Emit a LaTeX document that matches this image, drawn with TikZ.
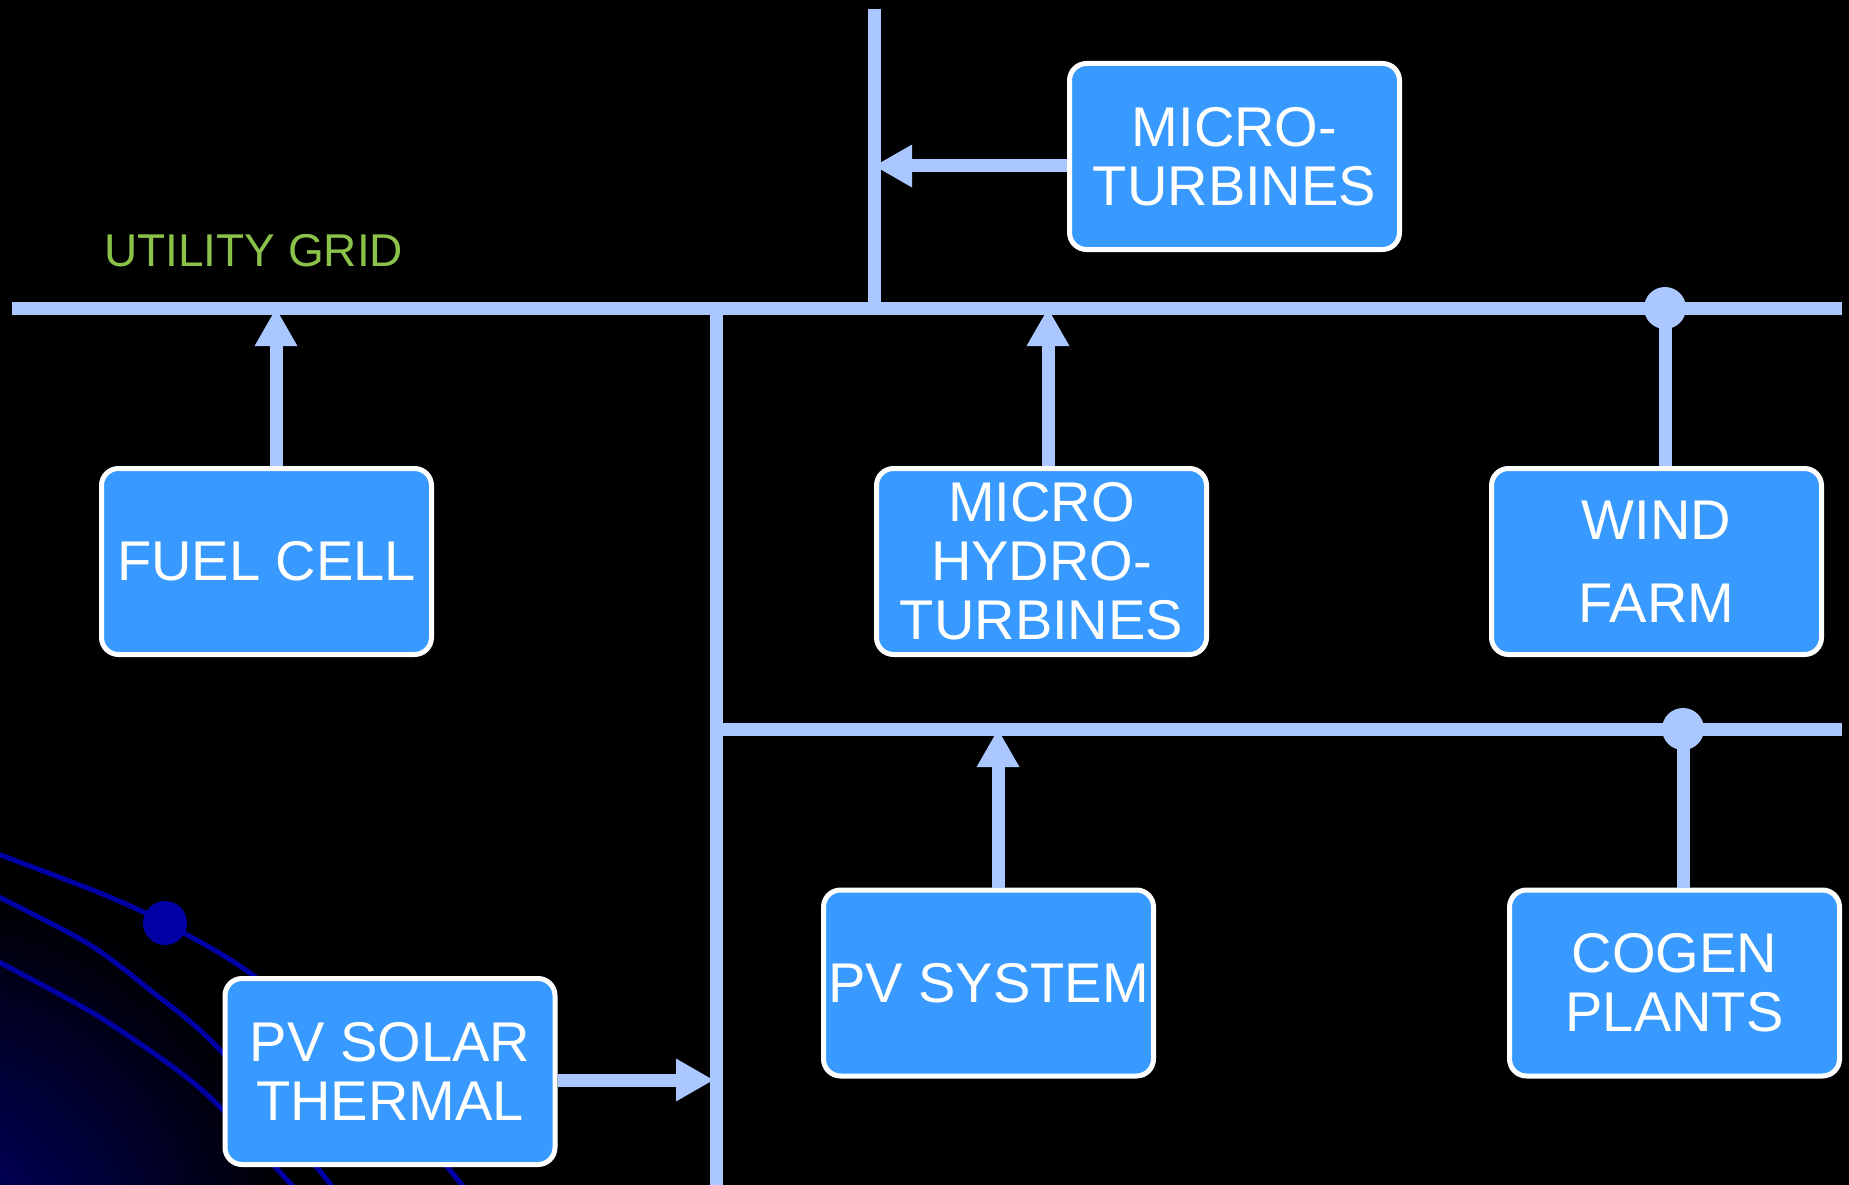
\documentclass[tikz,border=0pt]{standalone}
\usepackage{fontspec}
\setmainfont{Liberation Sans}
\usetikzlibrary{arrows.meta}
\definecolor{boxblue}{RGB}{56,154,254}
\definecolor{linecol}{RGB}{170,200,255}
\definecolor{gridgreen}{RGB}{139,195,74}
\definecolor{navyline}{RGB}{0,0,165}
\definecolor{navyfill}{RGB}{0,0,115}
\begin{document}
\begin{tikzpicture}[x=1pt,y=-1pt,
  box/.style={draw=white, line width=5pt, fill=boxblue, rounded corners=17pt,
    minimum width=330pt, minimum height=186pt, inner sep=0pt, align=center,
    text=white, font=\fontsize{56}{59}\selectfont},
  bus/.style={draw=linecol, line width=13pt},
  arr/.style={draw=linecol, line width=13pt, -{Triangle[length=38pt,width=40pt]}},
  junction/.style={fill=linecol},
  orbit/.style={draw=navyline, line width=5pt}]
% background
\fill[black] (0,0) rectangle (1849,1185);
\useasboundingbox (0,0) rectangle (1849,1185);
\begin{scope}
  \clip (0,0) rectangle (1849,1185);
  \shade[inner color=navyfill, outer color=black] (-80,1260) circle (380);
  \draw[orbit] plot[smooth] coordinates {(-5,853) (100,893) (165,923) (250,973) (360,1065) (466,1190)};
  \draw[orbit] plot[smooth] coordinates {(-5,895) (87,943) (150,990) (220,1050) (335,1190)};
  \draw[orbit] plot[smooth] coordinates {(-5,960) (93,1013) (173,1067) (220,1107) (296,1190)};
  \fill[navyline] (165,923) circle (22);
\end{scope}
% coordinates
\coordinate (gL) at (12,308);
\coordinate (gR) at (1842,308);
\coordinate (vT) at (874,9);
\coordinate (vB) at (874,308);
\coordinate (bT) at (716,308);
\coordinate (bB) at (716,1185);
\coordinate (sL) at (716,729);
\coordinate (sR) at (1842,729);
\coordinate (mtA) at (874,166);
\coordinate (fcA) at (276,308);
\coordinate (mhA) at (1048,308);
\coordinate (wfA) at (1665,308);
\coordinate (pvA) at (998,729);
\coordinate (cgA) at (1683,729);
\coordinate (psA) at (714,1080);
% label
\node[text=gridgreen, font=\fontsize{46}{50}\selectfont, anchor=west, inner sep=0pt] (UG) at (104,251) {UTILITY GRID};
% buses
\draw[bus] (gL) -- (gR);
\draw[bus] (vT) -- (vB);
\draw[bus] (bT) -- (bB);
\draw[bus] (sL) -- (sR);
% boxes
\node[box] (MT) at (1234.5,156.5) {MICRO-\\TURBINES};
\node[box] (FC) at (266.5,561.5) {FUEL CELL};
\node[box] (MH) at (1041.5,561.5) {MICRO\\HYDRO-\\TURBINES};
\node[box, font=\fontsize{56}{83}\selectfont] (WF) at (1656.5,561.5) {WIND\\FARM};
\node[box] (PVS) at (988.5,983) {PV SYSTEM};
\node[box] (CG) at (1674.5,983) {COGEN\\PLANTS};
\node[box] (PST) at (390,1071.5) {PV SOLAR\\THERMAL};
% connectors
\draw[arr] (MT.west |- mtA) -- (mtA);
\draw[arr] (FC.north -| fcA) -- (fcA);
\draw[arr] (MH.north -| mhA) -- (mhA);
\draw[bus] (WF.north -| wfA) -- (wfA);
\fill[junction] (wfA) circle (21);
\draw[arr] (PVS.north -| pvA) -- (pvA);
\draw[bus] (CG.north -| cgA) -- (cgA);
\fill[junction] (cgA) circle (21);
\draw[arr] (PST.east |- psA) -- (psA);
\end{tikzpicture}
\end{document}
